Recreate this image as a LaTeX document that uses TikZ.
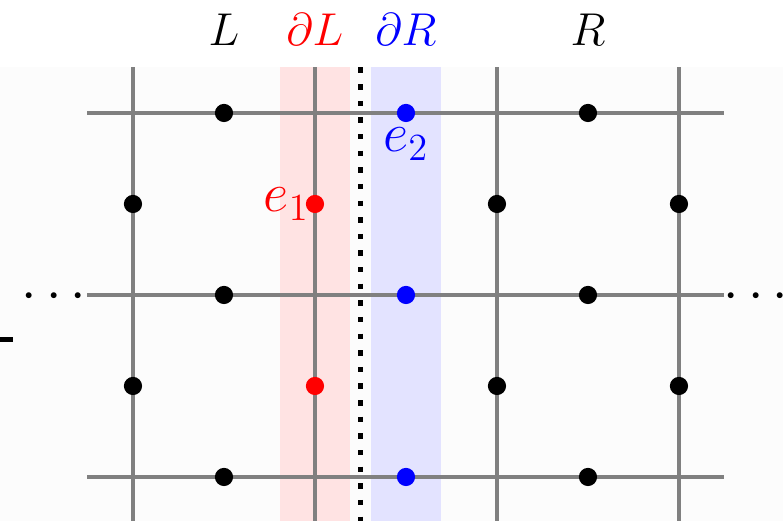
\documentclass[tikz,border=0pt]{standalone}
\usepackage{amsmath,amssymb}
\usepackage{tikz}
\usetikzlibrary{positioning,calc}

\begin{document}
\begin{tikzpicture}[x=1cm, y=1cm,
    vtx/.style={circle, fill=#1, inner sep=0pt, minimum size=2mm},
    vtx/.default=black,
    lattice/.style={gray, line width=1pt},
    toplbl/.style={font=\Large, anchor=base},
    edgelbl/.style={font=\fontsize{18.5}{22}\selectfont, inner sep=0pt}]
\useasboundingbox (-1.4615,-0.4835) rectangle (7.143,5.2418);
% faint backdrop and the two boundary strips
\fill[black!1] (-1.4615,-0.4835) rectangle (7.143,4.5);
\fill[red!11] (1.62,-0.4835) rectangle (2.38,4.5);
\fill[blue!11] (2.62,-0.4835) rectangle (3.38,4.5);
% lattice
\foreach \x in {0,2,4,6}
  \draw[lattice] (\x,-0.4835) -- (\x,4.5);
\foreach \y in {0,2,4}
  \draw[lattice] (-0.5,\y) -- (6.5,\y);
% cut between L and R
\draw[line width=1.7pt, dash pattern=on 1.7pt off 3.5pt] (2.5,4.5) -- (2.5,-0.4835);
% edge variables
\foreach \y in {0,2,4} {
  \node[vtx] (q1\y) at (1,\y) {};
  \node[vtx=blue] (q3\y) at (3,\y) {};
  \node[vtx] (q5\y) at (5,\y) {};
}
\foreach \y in {1,3} {
  \node[vtx] (q0\y) at (0,\y) {};
  \node[vtx=red] (q2\y) at (2,\y) {};
  \node[vtx] (q4\y) at (4,\y) {};
  \node[vtx] (q6\y) at (6,\y) {};
}
\node[edgelbl, red, left=-0.5mm of q23] (e1) {$e_1$};
\node[edgelbl, blue, below=0.5mm of q34] (e2) {$e_2$};
% region labels
\node[toplbl] (lblL) at (1,4.747) {$L$};
\node[toplbl, red] (lbldL) at (2,4.747) {$\partial L$};
\node[toplbl, blue] (lbldR) at (3,4.747) {$\partial R$};
\node[toplbl] (lblR) at (5,4.747) {$R$};
\node[font=\LARGE, anchor=base] (dotsl) at (-0.82,1.846) {$\cdots$};
\node[font=\LARGE, anchor=base] (dotsr) at (6.895,1.846) {$\cdots$};
\draw[line width=1.6pt] (-1.4615,1.511) -- (-1.322,1.511);
\end{tikzpicture}
\end{document}
